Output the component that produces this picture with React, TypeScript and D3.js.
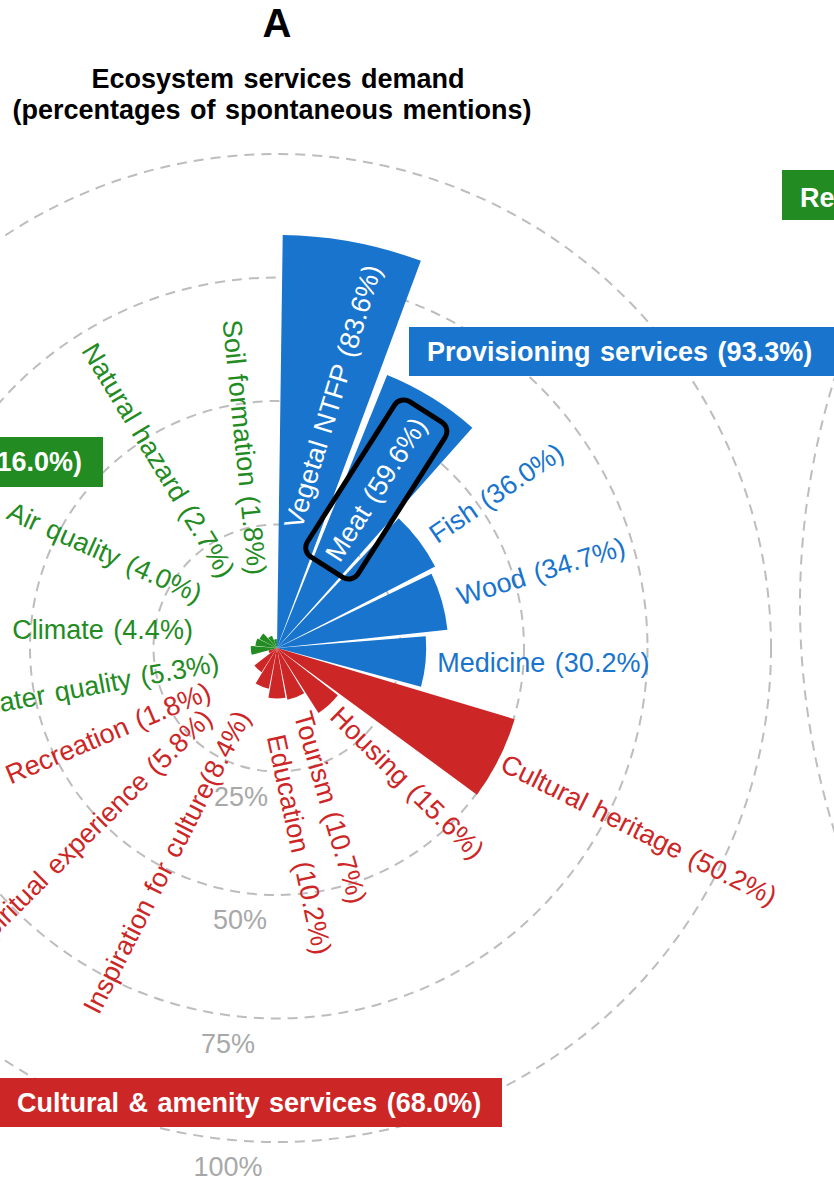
import React from "react";
import * as d3 from "d3";

// ---------------- DATA ----------------
const categories = [
  "Vegetal NTFP", "Meat", "Fish", "Wood", "Medicine",
  "Cultural heritage", "Housing", "Tourism", "Education", "Inspiration for culture",
  "Spiritual experience", "Recreation",
  "Water quality", "Climate", "Air quality", "Natural hazard", "Soil formation",
];
const groupOf = [
  "prov", "prov", "prov", "prov", "prov",
  "cult", "cult", "cult", "cult", "cult", "cult", "cult",
  "reg", "reg", "reg", "reg", "reg",
];
const values = [83.6, 59.6, 36.0, 34.7, 30.2, 50.2, 15.6, 10.7, 10.2, 8.4, 5.8, 1.8, 5.3, 4.4, 4.0, 2.7, 1.8];
const groupKeys = ["prov", "reg", "cult"];
const groupNames = ["Provisioning services", "Regulating services", "Cultural & amenity services"];
const groupTotals = [93.3, 16.0, 68.0];
const gridTicks = [25, 50, 75, 100];
const highlighted = "Meat";

// ---------------- LAYOUT / STYLE ----------------
const W = 834, H = 1186;
const CX = 277, CY = 648, RMAX = 494;
const FONT = "'Liberation Sans', Arial, Helvetica, sans-serif";
const groupColors = ["#1874CD", "#228B22", "#CD2626"];
const GRID = "#BDBDBD";
const TICK_TXT = "#A8A8A8";
// label placement: [position angle (deg, clockwise from 12h), radius px, reading angle deg, mode]
const labelLayout: [number, number, number, string][] = [
  [14.1, 394, 17, "in"],
  [32.2, 269, 32.5, "in"],
  [54.4, 191, 55.8, "out"],
  [74.3, 188, 73, "out"],
  [95.3, 161, 90, "out"],
  [116.8, 253, 116.6, "out"],
  [137.8, 86, 134.6, "out"],
  [158.7, 69, 163.6, "out"],
  [181, 87, 167.9, "out"],
  [207.6, 73, 207, "out"],
  [226.4, 96, 225.3, "out"],
  [238, 80, 247, "out"],
  [256, 60, 259.5, "out"],
  [282, 86, 270, "out"],
  [304.5, 93, 294, "out"],
  [326, 88, 328.7, "out"],
  [344.7, 76, 354.3, "out"],
];
const tickLabelDx = [-36, -37, -49, -49];
// group boxes: [x, y, w, h, text anchor x, anchor]
const boxLayout: [number, number, number, number, number, string][] = [
  [409, 327, 440, 49, 427, "start"],
  [-300, 437, 403, 50, 82, "end"],
  [-2, 1078, 504, 49, 17, "start"],
];

function polar(angDeg: number, rad: number): [number, number] {
  const a = (angDeg * Math.PI) / 180;
  return [CX + rad * Math.sin(a), CY - rad * Math.cos(a)];
}

function labelText(name: string, v: number) {
  const sep = name === "Inspiration for culture" ? "" : " ";
  return `${name}${sep}(${v.toFixed(1)}%)`;
}

export default function App() {
  const r = d3.scaleLinear().domain([0, 100]).range([0, RMAX]);
  const band = d3
    .scaleBand<string>()
    .domain(categories)
    .range([0, 2 * Math.PI])
    .paddingInner(0.075)
    .paddingOuter(0.0375);
  const color = d3.scaleOrdinal<string, string>().domain(groupKeys).range(groupColors);
  const arc = d3.arc<any>();

  const bars = categories.map((c, i) => {
    const s = band(c)!;
    const d = arc({ innerRadius: 0, outerRadius: r(values[i]), startAngle: s, endAngle: s + band.bandwidth() })!;
    return <path key={c} d={d} transform={`translate(${CX},${CY})`} fill={color(groupOf[i])} />;
  });

  const labels = categories.map((c, i) => {
    const [pa, pr, rot, mode] = labelLayout[i];
    const [x, y] = polar(pa, pr);
    let anchor = "start";
    let rr = rot - 90;
    let fill = color(groupOf[i]);
    if (mode === "in") {
      anchor = "end";
      fill = "#FFFFFF";
    } else if (rot > 180) {
      anchor = "end";
      rr = rot - 270;
    }
    return (
      <text
        key={c}
        x={0}
        y={0}
        transform={`translate(${x},${y}) rotate(${rr})`}
        textAnchor={anchor}
        dominantBaseline="central"
        fill={fill}
        fontSize={27}
      >
        {labelText(c, values[i])}
      </text>
    );
  });

  // highlight box around the Meat label
  const hi = categories.indexOf(highlighted);
  const [hpa, hpr, hrot] = labelLayout[hi];
  const [hx, hy] = polar(hpa, hpr);
  const hlen = 164;
  const dir = [Math.sin((hrot * Math.PI) / 180), -Math.cos((hrot * Math.PI) / 180)];
  const hcx = hx - dir[0] * hlen / 2;
  const hcy = hy - dir[1] * hlen / 2;

  return (
    <svg
      width={W}
      height={H}
      viewBox={`0 0 ${W} ${H}`}
      style={{ position: "absolute", left: 0, top: 0, background: "#fff", wordSpacing: "2px" }}
      fontFamily={FONT}
    >
      <rect x={0} y={0} width={W} height={H} fill="#fff" />
      {/* grid circles */}
      {gridTicks.map((t) => (
        <circle key={t} cx={CX} cy={CY} r={r(t)} fill="none" stroke={GRID} strokeWidth={2} strokeDasharray="10 7" />
      ))}
      {/* neighbouring panel B grid (cropped) */}
      <circle cx={1561} cy={605} r={761} fill="none" stroke={GRID} strokeWidth={2} strokeDasharray="10 7" />
      <rect x={782} y={170} width={80} height={50} fill={groupColors[1]} />
      <text x={800} y={207} fill="#fff" fontWeight="bold" fontSize={27}>Regulating services</text>

      {bars}
      {labels}
      <rect
        x={-(hlen + 20) / 2}
        y={-30}
        width={hlen + 20}
        height={60}
        rx={11}
        fill="none"
        stroke="#000"
        strokeWidth={5}
        transform={`translate(${hcx},${hcy}) rotate(${hrot - 90})`}
      />

      {/* radial tick labels */}
      {gridTicks.map((t, i) => (
        <text
          key={t}
          x={CX + tickLabelDx[i]}
          y={CY + r(t) + 25}
          textAnchor="middle"
          dominantBaseline="central"
          fill={TICK_TXT}
          fontSize={27}
        >
          {`${t}%`}
        </text>
      ))}

      {/* group boxes */}
      {groupKeys.map((g, i) => {
        const [bx, by, bw, bh, tx, ta] = boxLayout[i];
        return (
          <g key={g}>
            <rect x={bx} y={by} width={bw} height={bh} fill={color(g)} />
            <text
              x={tx}
              y={by + bh / 2}
              textAnchor={ta}
              dominantBaseline="central"
              fill="#fff"
              fontWeight="bold"
              fontSize={27}
            >
              {`${groupNames[i]} (${groupTotals[i].toFixed(1)}%)`}
            </text>
          </g>
        );
      })}

      {/* titles */}
      <text x={277} y={37} textAnchor="middle" fontWeight="bold" fontSize={40} fill="#000">A</text>
      <text x={278} y={88} textAnchor="middle" fontWeight="bold" fontSize={27} fill="#000">
        Ecosystem services demand
      </text>
      <text x={272} y={119} textAnchor="middle" fontWeight="bold" fontSize={27} fill="#000">
        (percentages of spontaneous mentions)
      </text>
    </svg>
  );
}
